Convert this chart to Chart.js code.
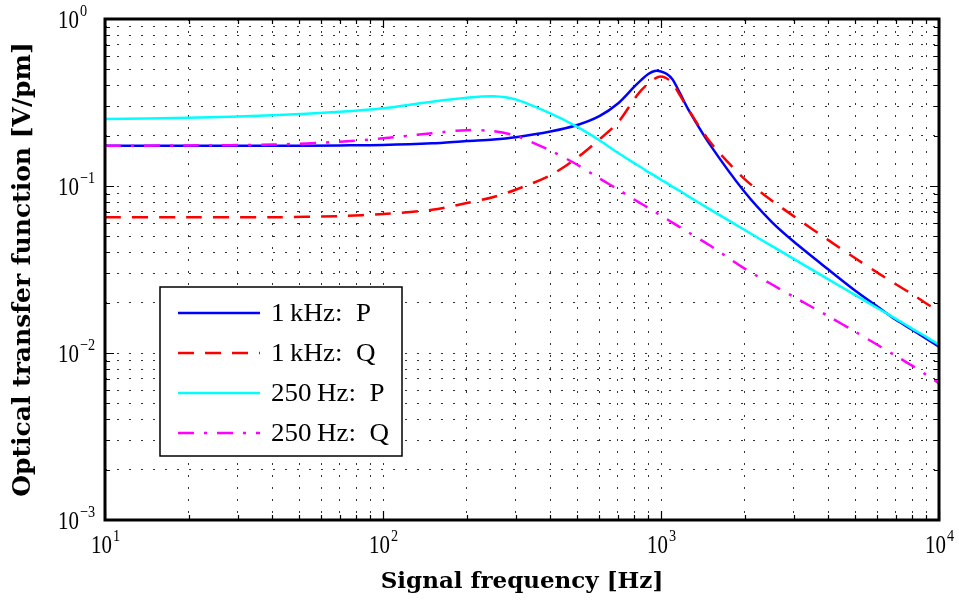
<!DOCTYPE html>
<html>
<head>
<meta charset="utf-8">
<script src="https://cdn.jsdelivr.net/npm/chart.js@4/dist/chart.umd.min.js"></script>
<style>
  html, body { margin: 0; padding: 0; background: #fff; }
  #wrap { width: 959px; height: 604px; }
</style>
</head>
<body>
<div id="wrap"><canvas id="c" width="959" height="604"></canvas></div>
<script>
// ---- data ----
const freqHz = [10, 20, 40, 70, 100, 150, 200, 250, 300, 400, 500, 600, 700, 800, 850, 900, 950, 1000, 1050, 1100, 1175, 1250, 1500, 2000, 2500, 3000, 4000, 5000, 6000, 7000, 8000, 9000, 10000];
const p1kHz  = [0.174, 0.174, 0.174, 0.175, 0.176, 0.180, 0.186, 0.190, 0.196, 0.212, 0.232, 0.262, 0.312, 0.392, 0.432, 0.468, 0.488, 0.485, 0.468, 0.435, 0.355, 0.290, 0.177, 0.092, 0.061, 0.0465, 0.0316, 0.0236, 0.0190, 0.0158, 0.0138, 0.0122, 0.0109];
const q1kHz  = [0.065, 0.065, 0.065, 0.066, 0.068, 0.072, 0.079, 0.086, 0.095, 0.116, 0.148, 0.190, 0.240, 0.330, 0.375, 0.410, 0.440, 0.452, 0.440, 0.412, 0.345, 0.290, 0.184, 0.110, 0.082, 0.066, 0.0474, 0.0369, 0.0303, 0.0258, 0.0225, 0.0198, 0.0177];
const p250Hz = [0.252, 0.256, 0.265, 0.278, 0.292, 0.320, 0.338, 0.345, 0.330, 0.272, 0.226, 0.188, 0.158, 0.137, 0.129, 0.121, 0.115, 0.109, 0.104, 0.099, 0.093, 0.087, 0.0725, 0.0545, 0.0438, 0.0366, 0.0276, 0.0222, 0.0186, 0.0160, 0.0140, 0.0125, 0.0112];
const q250Hz = [0.174, 0.175, 0.177, 0.184, 0.193, 0.207, 0.216, 0.213, 0.200, 0.163, 0.134, 0.111, 0.0955, 0.0830, 0.0783, 0.0740, 0.0700, 0.0665, 0.0633, 0.0603, 0.0565, 0.0530, 0.0440, 0.0320, 0.0258, 0.0217, 0.0166, 0.0134, 0.0112, 0.0096, 0.0084, 0.0074, 0.0066];
const seriesLabels = ['1\u2009kHz:  P', '1\u2009kHz:  Q', '250\u2009Hz:  P', '250\u2009Hz:  Q'];
const xDecades = [1, 2, 3, 4];      // 10^1 .. 10^4
const yDecades = [0, -1, -2, -3];   // 10^0 .. 10^-3
const xTitle = 'Signal frequency [Hz]';
const yTitle = 'Optical transfer function [V/pm]';

const seriesValues = [p1kHz, q1kHz, p250Hz, q250Hz];
const seriesColors = ['#0000ff', '#ff0000', '#00ffff', '#ff00ff'];
const seriesDash = [[], [16, 11], [], [16, 10, 3, 10]];
const seriesOrder = [4, 3, 2, 1];

function logTicks(minExp, maxExp) {
  const t = [];
  for (let e = minExp; e < maxExp; e++) {
    for (let m = 1; m <= 9; m++) t.push({ value: m * Math.pow(10, e) });
  }
  t.push({ value: Math.pow(10, maxExp) });
  return t;
}

const datasets = seriesValues.map((vals, i) => ({
  label: seriesLabels[i],
  data: freqHz.map((f, k) => ({ x: f, y: vals[k] })),
  borderColor: seriesColors[i],
  backgroundColor: seriesColors[i],
  borderWidth: 2.5,
  borderDash: seriesDash[i],
  pointRadius: 0,
  fill: false,
  tension: 0.3,
  order: seriesOrder[i]
}));

const gridCommon = {
  color: '#333',
  lineWidth: 1,
  drawTicks: false,
  borderDash: [2, 10]
};

function scaledText(ctx, text, x, y, font, sx, sy, align) {
  ctx.save();
  ctx.font = font;
  ctx.textAlign = align;
  ctx.translate(x, y);
  ctx.scale(sx, sy);
  ctx.fillText(text, 0, 0);
  ctx.restore();
}

const TICK_FONT = '22px "Liberation Serif", serif';
const SUP_FONT = '15px "Liberation Serif", serif';
const TSX = 0.95, TSY = 1.15;

const framePlugin = {
  id: 'frame',
  afterDatasetsDraw(chart) {
    const ctx = chart.ctx;
    const a = chart.chartArea;
    const xs = chart.scales.x, ys = chart.scales.y;
    ctx.save();
    ctx.strokeStyle = '#000';
    ctx.lineWidth = 1.2;
    ctx.setLineDash([]);
    // inward ticks
    xs.ticks.forEach(t => {
      const px = Math.round(xs.getPixelForValue(t.value)) + 0.5;
      const major = Math.abs(Math.log10(t.value) - Math.round(Math.log10(t.value))) < 1e-9;
      const L = major ? 9 : 5;
      ctx.beginPath();
      ctx.moveTo(px, a.bottom); ctx.lineTo(px, a.bottom - L);
      ctx.moveTo(px, a.top); ctx.lineTo(px, a.top + L);
      ctx.stroke();
    });
    ys.ticks.forEach(t => {
      const py = Math.round(ys.getPixelForValue(t.value)) + 0.5;
      const major = Math.abs(Math.log10(t.value) - Math.round(Math.log10(t.value))) < 1e-9;
      const L = major ? 9 : 5;
      ctx.beginPath();
      ctx.moveTo(a.left, py); ctx.lineTo(a.left + L, py);
      ctx.moveTo(a.right, py); ctx.lineTo(a.right - L, py);
      ctx.stroke();
    });
    // box
    ctx.lineWidth = 3;
    ctx.strokeRect(a.left, a.top, a.right - a.left, a.bottom - a.top);

    // tick labels
    ctx.fillStyle = '#000';
    ctx.textBaseline = 'alphabetic';
    xDecades.forEach(e => {
      const px = xs.getPixelForValue(Math.pow(10, e));
      ctx.font = TICK_FONT;
      const w1 = ctx.measureText('10').width * TSX;
      ctx.font = SUP_FONT;
      const sup = String(e);
      const w2 = ctx.measureText(sup).width * TSX;
      const x0 = px - (w1 + w2) / 2;
      scaledText(ctx, '10', x0, 553, TICK_FONT, TSX, TSY, 'left');
      scaledText(ctx, sup, x0 + w1 + 1, 541, SUP_FONT, TSX, TSY, 'left');
    });
    yDecades.forEach(e => {
      const py = ys.getPixelForValue(Math.pow(10, e));
      scaledText(ctx, '10', 79, py + 8.5, TICK_FONT, TSX, TSY, 'right');
      scaledText(ctx, e < 0 ? '\u2212' + Math.abs(e) : String(e), 80, py - 3, SUP_FONT, TSX, TSY, 'left');
    });

    // legend box
    const lx = a.left + 55, ly = a.top + 268, lw = 242, lh = 169;
    ctx.fillStyle = '#fff';
    ctx.fillRect(lx, ly, lw, lh);
    ctx.lineWidth = 1.5;
    ctx.strokeStyle = '#000';
    ctx.strokeRect(lx, ly, lw, lh);
    chart.data.datasets.forEach((ds, i) => {
      const cy = ly + 26 + i * 40;
      ctx.beginPath();
      ctx.setLineDash(ds.borderDash || []);
      ctx.lineDashOffset = 0;
      ctx.strokeStyle = ds.borderColor;
      ctx.lineWidth = ds.borderWidth;
      ctx.moveTo(lx + 18, cy);
      ctx.lineTo(lx + 100, cy);
      ctx.stroke();
      ctx.setLineDash([]);
      ctx.fillStyle = '#000';
      ctx.textBaseline = 'middle';
      scaledText(ctx, ds.label, lx + 111, cy + 1, '25px "Liberation Serif", serif', 1.08, 1.0, 'left');
    });
    ctx.restore();
  }
};

new Chart(document.getElementById('c'), {
  type: 'line',
  data: { datasets },
  options: {
    responsive: false,
    animation: false,
    events: [],
    layout: { padding: { top: 19, right: 20, left: 0, bottom: 0 } },
    plugins: { legend: { display: false }, tooltip: { enabled: false } },
    scales: {
      x: {
        type: 'logarithmic',
        min: 10, max: 10000,
        afterBuildTicks: s => { s.ticks = logTicks(1, 4); },
        afterFit: s => { s.height = 84; },
        ticks: { display: false, autoSkip: false },
        grid: gridCommon,
        border: { display: false, dash: [2, 10] },
        title: {
          display: true, text: xTitle, color: '#000',
          font: { family: '"DejaVu Serif", serif', size: 23, weight: 'bold' },
          padding: { top: 0, bottom: 8 }
        }
      },
      y: {
        type: 'logarithmic',
        min: 0.001, max: 1,
        afterBuildTicks: s => { s.ticks = logTicks(-3, 0); },
        afterFit: s => { s.width = 105; },
        ticks: { display: false, autoSkip: false },
        grid: gridCommon,
        border: { display: false, dash: [2, 10] },
        title: {
          display: true, text: yTitle, color: '#000',
          font: { family: '"DejaVu Serif", serif', size: 25, weight: 'bold' },
          padding: { top: 8, bottom: 0 }
        }
      }
    }
  },
  plugins: [framePlugin]
});
</script>
</body>
</html>
